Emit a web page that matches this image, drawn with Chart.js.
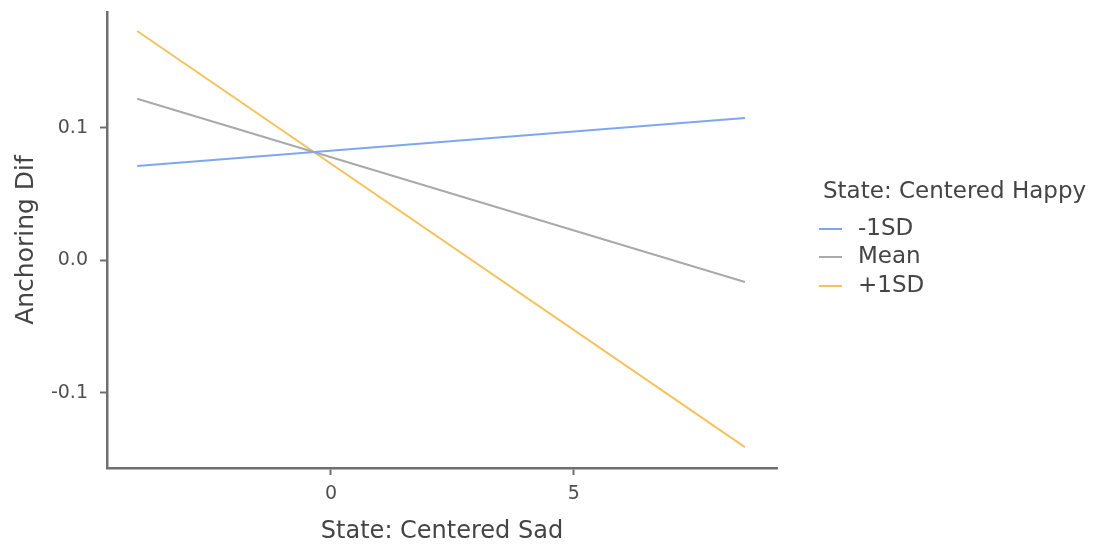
<!DOCTYPE html>
<html>
<head>
<meta charset="utf-8">
<title>Anchoring Dif by State: Centered Sad</title>
<script src="https://cdn.jsdelivr.net/npm/chart.js@4"></script>
<style>
    html, body { margin: 0; padding: 0; background: #ffffff; }
    #wrap { position: relative; width: 1101px; height: 546px; }
</style>
</head>
<body>
<div id="wrap"><canvas id="myChart"></canvas></div>
<script>
/* data */
var sadValues = [-3.99, 8.52];
var seriesLabels = ['-1SD', 'Mean', '+1SD'];
var minusSD = [0.0713, 0.1075];
var meanLine = [0.1221, -0.0162];
var plusSD = [0.1732, -0.1408];
var xTicks = [0, 5];
var yTicks = [-0.1, 0.0, 0.1];
var legendTitle = 'State: Centered Happy';

var chartMaker = (function () {

    "use strict";
    var colorSet = ['#7fa7ef', '#a9a9a9', '#f4c25e'];
    var axisColor = '#6f6f6f';
    var fontFamily = '"DejaVu Sans", sans-serif';

    /* build a {x, y} list for one series */
    function toPoints(values) {
        var pts = [];
        var i;
        for (i = 0; i < values.length; i++) {
            pts.push({x: sadValues[i], y: values[i]});
        }
        return pts;
    }

    /* no extra room for half labels at the axis ends */
    function noEdgePadding(scale) {
        scale.paddingTop = 0;
        scale.paddingBottom = 0;
        scale.paddingLeft = 0;
        scale.paddingRight = 0;
    }

    /* legend on the right, drawn by hand like the original */
    var sideLegend = {
        id: 'sideLegend',
        afterDraw: function (chart) {
            var ctx = chart.ctx;
            var rows = [229, 257, 286];
            var i;
            ctx.save();
            ctx.fillStyle = '#444444';
            ctx.font = '23px ' + fontFamily;
            ctx.textAlign = 'left';
            ctx.textBaseline = 'alphabetic';
            ctx.fillText(legendTitle, 823, 198);
            ctx.textBaseline = 'middle';
            for (i = 0; i < chart.data.datasets.length; i++) {
                ctx.strokeStyle = chart.data.datasets[i].borderColor;
                ctx.lineWidth = 2;
                ctx.beginPath();
                ctx.moveTo(819, rows[i]);
                ctx.lineTo(842, rows[i]);
                ctx.stroke();
                ctx.fillText(chart.data.datasets[i].label, 858, rows[i]);
            }
            ctx.restore();
        }
    };

    function createChart() {
        var ctx = document.getElementById('myChart');
        var allSeries = [minusSD, meanLine, plusSD];
        var datasets = [];
        var i;
        for (i = 0; i < allSeries.length; i++) {
            datasets.push({
                label: seriesLabels[i],
                data: toPoints(allSeries[i]),
                showLine: true,
                borderColor: colorSet[i],
                backgroundColor: colorSet[i],
                borderWidth: 2,
                pointRadius: 0,
                pointHoverRadius: 0
            });
        }

        return new Chart(ctx, {
            type: 'scatter',
            data: { datasets: datasets },
            options: {
                responsive: true,
                maintainAspectRatio: false,
                animation: false,
                devicePixelRatio: 1,
                layout: { padding: { top: 12, right: 324, bottom: 0, left: 0 } },
                plugins: {
                    legend: { display: false },
                    tooltip: { enabled: false }
                },
                scales: {
                    x: {
                        type: 'linear',
                        min: -4.61,
                        max: 9.18,
                        afterFit: function (scale) {
                            scale.height = 78;
                            noEdgePadding(scale);
                        },
                        afterBuildTicks: function (scale) {
                            scale.ticks = xTicks.map(function (v) { return {value: v}; });
                        },
                        border: { display: true, color: axisColor, width: 2.5 },
                        grid: {
                            display: true,
                            drawOnChartArea: false,
                            drawTicks: true,
                            tickLength: 7,
                            tickWidth: 2,
                            tickColor: axisColor
                        },
                        ticks: {
                            padding: 8,
                            color: '#505050',
                            font: { family: fontFamily, size: 19 },
                            callback: function (v) { return String(v); }
                        },
                        title: {
                            display: true,
                            text: 'State: Centered Sad',
                            color: '#444444',
                            padding: { top: 0, bottom: 0 },
                            font: { family: fontFamily, size: 24 }
                        }
                    },
                    y: {
                        type: 'linear',
                        min: -0.1566,
                        max: 0.1875,
                        afterFit: function (scale) {
                            scale.width = 107;
                            noEdgePadding(scale);
                        },
                        afterBuildTicks: function (scale) {
                            scale.ticks = yTicks.map(function (v) { return {value: v}; });
                        },
                        border: { display: true, color: axisColor, width: 2.5 },
                        grid: {
                            display: true,
                            drawOnChartArea: false,
                            drawTicks: true,
                            tickLength: 7,
                            tickWidth: 2,
                            tickColor: axisColor
                        },
                        ticks: {
                            padding: 12,
                            color: '#505050',
                            font: { family: fontFamily, size: 19 },
                            callback: function (v) { return v.toFixed(1); }
                        },
                        title: {
                            display: true,
                            text: 'Anchoring Dif',
                            color: '#444444',
                            padding: { top: 11, bottom: 11 },
                            font: { family: fontFamily, size: 25 }
                        }
                    }
                }
            },
            plugins: [sideLegend]
        });
    }

    return {
        render: createChart
    };

}());

chartMaker.render();
</script>
</body>
</html>
